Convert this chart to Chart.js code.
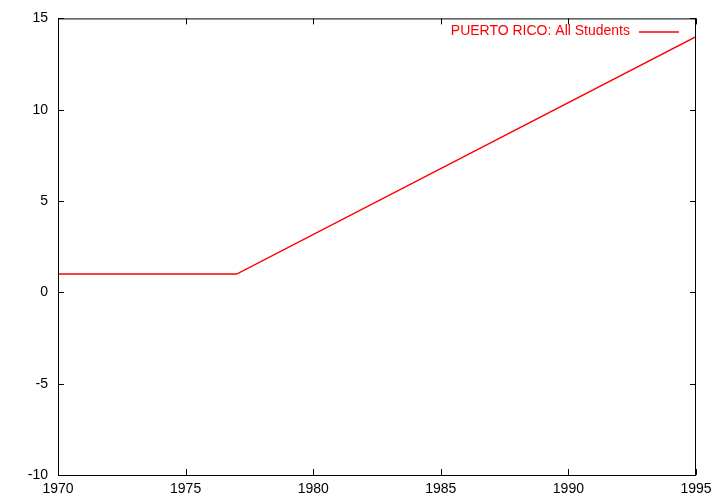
<!DOCTYPE html>
<html>
<head>
<meta charset="utf-8">
<script src="https://cdn.jsdelivr.net/npm/chart.js@4"></script>
<style>
  html, body { margin: 0; padding: 0; background: #fff; }
  #wrap { width: 720px; height: 504px; }
</style>
</head>
<body>
<div id="wrap"><canvas id="chart"></canvas></div>
<script>
const years = [1970, 1977, 1995];
const values = [1, 1, 14];
const seriesLabel = "PUERTO RICO: All Students";
const xTicks = [1970, 1975, 1980, 1985, 1990, 1995];
const yTicks = [-10, -5, 0, 5, 10, 15];

const FONT = "'Liberation Sans', Arial, sans-serif";

// gnuplot-style frame with inward ticks on all four sides, plus a legend top-right
const framePlugin = {
  id: "frame",
  afterDraw(chart) {
    const { ctx, chartArea: a, scales } = chart;
    ctx.save();
    ctx.strokeStyle = "#000";
    ctx.lineWidth = 1;
    ctx.strokeRect(a.left + 0.5, a.top + 0.5, a.right - a.left - 1, a.bottom - a.top);
    const len = 6;
    ctx.beginPath();
    xTicks.forEach((v) => {
      const x = Math.round(scales.x.getPixelForValue(v)) + 0.5;
      ctx.moveTo(x, a.bottom); ctx.lineTo(x, a.bottom - len);
      ctx.moveTo(x, a.top); ctx.lineTo(x, a.top + len);
    });
    yTicks.forEach((v) => {
      const y = Math.round(scales.y.getPixelForValue(v)) + 0.5;
      ctx.moveTo(a.left, y); ctx.lineTo(a.left + len, y);
      ctx.moveTo(a.right, y); ctx.lineTo(a.right - len, y);
    });
    ctx.stroke();

    // legend
    const ds = chart.data.datasets[0];
    ctx.font = "14px " + FONT;
    ctx.fillStyle = ds.borderColor;
    ctx.textAlign = "right";
    ctx.textBaseline = "middle";
    ctx.fillText(ds.label, a.right - 66, a.top + 13);
    ctx.strokeStyle = ds.borderColor;
    ctx.lineWidth = ds.borderWidth;
    ctx.beginPath();
    ctx.moveTo(a.right - 57, a.top + 13.5);
    ctx.lineTo(a.right - 17, a.top + 13.5);
    ctx.stroke();
    ctx.restore();
  },
};

new Chart(document.getElementById("chart"), {
  type: "line",
  data: {
    datasets: [
      {
        label: seriesLabel,
        data: years.map((y, i) => ({ x: y, y: values[i] })),
        borderColor: "#ff0000",
        borderWidth: 1.5,
        pointRadius: 0,
        tension: 0,
        fill: false,
      },
    ],
  },
  options: {
    responsive: true,
    maintainAspectRatio: false,
    animation: false,
    layout: { padding: { top: 17, right: 24, left: 0, bottom: 0 } },
    plugins: {
      legend: { display: false },
      tooltip: { enabled: false },
    },
    scales: {
      x: {
        type: "linear",
        min: 1970,
        max: 1995,
        afterFit: (s) => { s.height = 29; },
        afterBuildTicks: (s) => { s.ticks = xTicks.map((v) => ({ value: v })); },
        grid: { display: false, drawTicks: false },
        border: { display: false },
        ticks: {
          color: "#000",
          padding: 6,
          font: { family: FONT, size: 14 },
          callback: (v) => String(v),
        },
      },
      y: {
        type: "linear",
        min: -10,
        max: 15,
        afterFit: (s) => { s.width = 58; },
        afterBuildTicks: (s) => { s.ticks = yTicks.map((v) => ({ value: v })); },
        grid: { display: false, drawTicks: false },
        border: { display: false },
        ticks: {
          color: "#000",
          padding: 10,
          font: { family: FONT, size: 14 },
          callback: (v) => String(v),
        },
      },
    },
  },
  plugins: [framePlugin],
});
</script>
</body>
</html>
